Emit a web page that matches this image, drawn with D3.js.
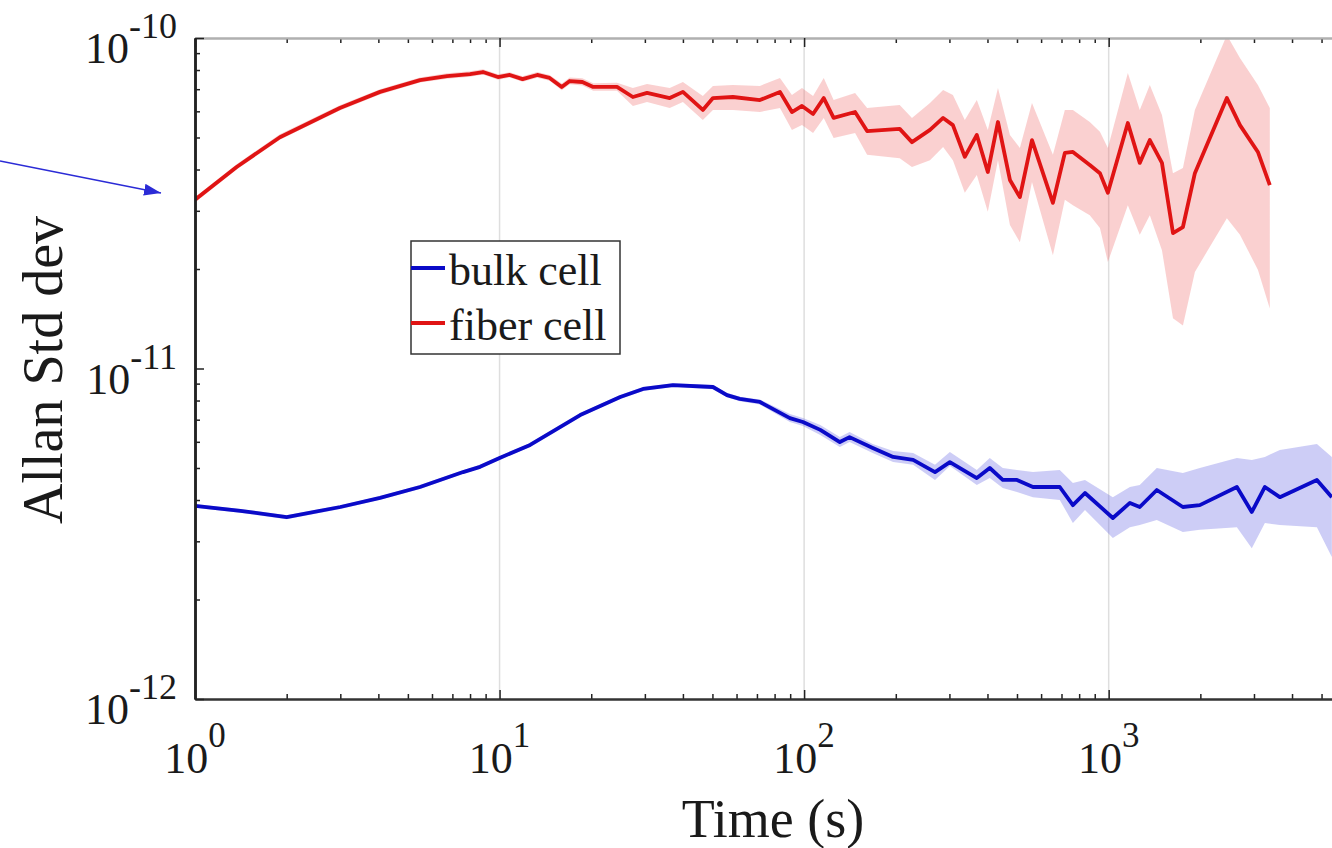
<!DOCTYPE html>
<html>
<head>
<meta charset="utf-8">
<script src="https://cdn.jsdelivr.net/npm/d3@7"></script>
<style>
  body { margin: 0; background: #fff; }
  text { font-family: "Liberation Serif", "Times New Roman", serif; fill: #1a1a1a; }
</style>
</head>
<body>
<div id="chart"></div>
<script>
// averaging time (s) and Allan deviation, sigma in units of 1e-11
var unit = 1e-11;

var fiberTau = [1, 1.37, 1.90, 2.99, 4.05, 5.48, 6.72, 8.0, 8.82, 9.88, 10.8, 11.9, 13.3, 14.6, 16.0, 17.0, 18.7, 20.3, 24.3,
  27.4, 30.5, 36.2, 40.0, 46.5, 50.2, 58.4, 71.6, 83.3, 91.2, 98.4, 107, 116, 125, 147, 161, 206, 226, 259, 286, 308,
  337, 369, 401, 433, 474, 511, 560, 656, 718, 763, 867, 936, 994, 1156, 1265, 1365, 1496, 1626, 1753, 1919, 2444,
  2698, 3090, 3381];
var fiberMean = [3.24, 4.07, 5.01, 6.14, 6.87, 7.46, 7.67, 7.78, 7.89, 7.62, 7.73, 7.51, 7.73, 7.57, 7.11, 7.41, 7.36, 7.11, 7.11,
  6.63, 6.82, 6.58, 6.87, 6.06, 6.58, 6.63, 6.49, 6.87, 5.97, 6.23, 5.89, 6.58, 5.73, 5.97, 5.23, 5.31, 4.84, 5.27, 5.73, 5.45,
  4.37, 5.09, 3.93, 5.57, 3.72, 3.30, 4.91, 3.17, 4.49, 4.52, 4.13, 3.90, 3.40, 5.53, 4.19, 4.91, 4.19, 2.57, 2.68, 3.90, 6.58,
  5.45, 4.52, 3.59];
var fiberLow = [3.18, 4.0, 4.92, 6.03, 6.75, 7.33, 7.53, 7.64, 7.75, 7.48, 7.59, 7.37, 7.58, 7.42, 6.95, 7.24, 7.18, 6.93, 6.92,
  6.23, 6.40, 6.14, 6.40, 5.65, 6.06, 6.06, 5.97, 6.14, 5.27, 5.45, 5.16, 5.73, 4.98, 5.16, 4.43, 4.33, 4.07, 4.27, 4.68, 4.27,
  3.40, 3.85, 2.98, 4.27, 2.72, 2.41, 3.67, 2.20, 3.24, 3.12, 2.91, 2.66, 2.10, 3.12, 2.54, 2.91, 2.28, 1.42, 1.35, 1.96, 2.85,
  2.54, 1.99, 1.52];
var fiberHigh = [3.30, 4.15, 5.11, 6.26, 7.0, 7.6, 7.82, 7.93, 8.04, 7.77, 7.88, 7.66, 7.89, 7.73, 7.28, 7.59, 7.55, 7.30, 7.32,
  7.06, 7.26, 7.06, 7.36, 6.68, 7.16, 7.21, 7.16, 7.57, 6.72, 7.06, 6.68, 7.57, 6.49, 6.82, 6.14, 6.27, 5.73, 6.36, 6.96, 6.72,
  5.65, 6.49, 5.27, 7.06, 5.09, 4.65, 6.36, 4.43, 6.06, 6.06, 5.57, 5.20, 4.65, 7.84, 6.06, 7.21, 5.85, 3.90, 4.04, 6.06, 10.2,
  8.70, 7.21, 6.14];

var bulkTau = [1, 1.41, 2.0, 3.0, 4.05, 5.48, 7.59, 8.63, 10.0, 12.6, 18.4, 24.9, 29.6, 37.1, 50.2, 55.8, 61.5, 71.6, 89.8, 99.1,
  113, 131, 141, 168, 196, 228, 269, 301, 369, 407, 449, 500, 564, 691, 763, 836, 1032, 1174, 1265, 1439, 1752, 1992, 2636,
  2951, 3258, 3648, 4827, 5405];
var bulkMean = [0.384, 0.371, 0.355, 0.381, 0.406, 0.438, 0.486, 0.504, 0.536, 0.587, 0.723, 0.820, 0.867, 0.891, 0.879, 0.831,
  0.809, 0.792, 0.708, 0.689, 0.652, 0.599, 0.620, 0.575, 0.540, 0.529, 0.486, 0.521, 0.466, 0.500, 0.460, 0.460, 0.438, 0.438,
  0.386, 0.420, 0.353, 0.392, 0.381, 0.429, 0.381, 0.386, 0.438, 0.368, 0.438, 0.408, 0.460, 0.408];
var bulkLow = [0.379, 0.366, 0.350, 0.376, 0.401, 0.432, 0.480, 0.497, 0.529, 0.579, 0.713, 0.809, 0.855, 0.879, 0.866, 0.818,
  0.796, 0.778, 0.689, 0.670, 0.629, 0.579, 0.599, 0.555, 0.521, 0.511, 0.460, 0.507, 0.444, 0.466, 0.435, 0.423, 0.408, 0.400,
  0.341, 0.373, 0.307, 0.331, 0.336, 0.348, 0.320, 0.325, 0.331, 0.286, 0.341, 0.336, 0.331, 0.269];
var bulkHigh = [0.389, 0.376, 0.360, 0.386, 0.411, 0.444, 0.492, 0.511, 0.543, 0.595, 0.733, 0.831, 0.879, 0.903, 0.892, 0.844,
  0.822, 0.806, 0.728, 0.708, 0.675, 0.620, 0.642, 0.591, 0.563, 0.555, 0.511, 0.559, 0.493, 0.536, 0.500, 0.493, 0.486, 0.493,
  0.450, 0.460, 0.408, 0.438, 0.444, 0.500, 0.483, 0.500, 0.536, 0.529, 0.540, 0.567, 0.591, 0.540];

var xTicks = [1, 10, 100, 1000];
var xTickExp = ["0", "1", "2", "3"];
var yTicks = [1e-12, 1e-11, 1e-10];
var yTickExp = ["-12", "-11", "-10"];
var seriesNames = ["bulk cell", "fiber cell"];

// layout (plot box edges in px)
var W = 1332, H = 848;
var pL = 195, pT = 38, pR = 1350, pB = 699;

var svg = d3.select("#chart").append("svg")
  .attr("width", W)
  .attr("height", H);

var x = d3.scaleLog().domain([1, 6200]).range([pL, pR]);
var y = d3.scaleLog().domain([1e-12, 1e-10]).range([pB, pT]);

// minor tick values
var xMinor = [];
[1, 10, 100, 1000].forEach(function(d) {
  for (var k = 2; k <= 9; k++) if (k * d <= 6200) xMinor.push(k * d);
});
var yMinor = [];
[1e-12, 1e-11].forEach(function(d) {
  for (var k = 2; k <= 9; k++) yMinor.push(k * d);
});

var defs = svg.append("defs");
defs.append("clipPath").attr("id", "plot")
  .append("rect").attr("x", pL).attr("y", pT).attr("width", pR - pL).attr("height", pB - pT);

// grid
svg.append("g").selectAll("line").data(xTicks.slice(1)).enter().append("line")
  .attr("x1", function(d) { return x(d); })
  .attr("x2", function(d) { return x(d); })
  .attr("y1", pT).attr("y2", pB)
  .style("stroke", "#dedede").style("stroke-width", 1.5);

function rows(tau, mean, lo, hi) {
  return tau.map(function(t, i) { return {t: t, m: mean[i] * unit, lo: lo[i] * unit, hi: hi[i] * unit}; });
}
var series = [
  {name: seriesNames[0], data: rows(bulkTau, bulkMean, bulkLow, bulkHigh), line: "#0a0ac8", band: "rgba(90,90,225,0.3)"},
  {name: seriesNames[1], data: rows(fiberTau, fiberMean, fiberLow, fiberHigh), line: "#e01414", band: "rgba(240,110,110,0.32)"}
];

var area = d3.area()
  .x(function(d) { return x(d.t); })
  .y0(function(d) { return y(d.lo); })
  .y1(function(d) { return y(d.hi); });
var line = d3.line()
  .x(function(d) { return x(d.t); })
  .y(function(d) { return y(d.m); });

var plot = svg.append("g").attr("clip-path", "url(#plot)");
series.forEach(function(s) {
  plot.append("path").attr("d", area(s.data))
    .style("fill", s.band).style("stroke", "none");
});
series.forEach(function(s) {
  plot.append("path").attr("d", line(s.data))
    .style("fill", "none").style("stroke", s.line)
    .style("stroke-width", 3.8).style("stroke-linejoin", "round");
});

// axes, ticks pointing inward
function styleAxis(g, color, width) {
  g.select(".domain").style("stroke", color).style("stroke-width", width);
  g.selectAll(".tick line").style("stroke", "#222").style("stroke-width", 1.5);
}
svg.append("g").attr("transform", "translate(0," + pT + ")")
  .call(d3.axisTop(x).tickValues(xMinor).tickSize(-5).tickSizeOuter(0).tickFormat(""))
  .call(styleAxis, "#b0b0b0", 2);
svg.append("g").attr("transform", "translate(0," + pT + ")")
  .call(d3.axisTop(x).tickValues(xTicks).tickSize(-9).tickSizeOuter(0).tickFormat(""))
  .call(styleAxis, "#b0b0b0", 2);
svg.append("g").attr("transform", "translate(0," + pB + ")")
  .call(d3.axisBottom(x).tickValues(xMinor).tickSize(-5).tickSizeOuter(0).tickFormat(""))
  .call(styleAxis, "#333", 2);
svg.append("g").attr("transform", "translate(0," + pB + ")")
  .call(d3.axisBottom(x).tickValues(xTicks).tickSize(-9).tickSizeOuter(0).tickFormat(""))
  .call(styleAxis, "#333", 2);
svg.append("g").attr("transform", "translate(" + pL + ",0)")
  .call(d3.axisLeft(y).tickValues(yMinor).tickSize(-5).tickSizeOuter(0).tickFormat(""))
  .call(styleAxis, "#222", 2.5);
svg.append("g").attr("transform", "translate(" + pL + ",0)")
  .call(d3.axisLeft(y).tickValues(yTicks).tickSize(-9).tickSizeOuter(0).tickFormat(""))
  .call(styleAxis, "#222", 2.5);

// tick labels with superscript exponents
var xl = svg.append("g").selectAll("text").data(xTicks).enter().append("text")
  .attr("x", function(d) { return x(d); })
  .attr("y", pB + 74)
  .attr("text-anchor", "middle")
  .style("font-size", "44px");
xl.append("tspan").text("10");
xl.append("tspan").attr("dy", -26).style("font-size", "35px").text(function(d, i) { return xTickExp[i]; });

var yl = svg.append("g").selectAll("text").data(yTicks).enter().append("text")
  .attr("x", pL - 18)
  .attr("y", function(d) { return y(d) + 25; })
  .attr("text-anchor", "end")
  .style("font-size", "44px");
yl.append("tspan").text("10");
yl.append("tspan").attr("dy", -25).style("font-size", "36px").text(function(d, i) { return yTickExp[i]; });

// axis titles
svg.append("text")
  .attr("x", 773).attr("y", 837)
  .attr("text-anchor", "middle")
  .style("font-size", "54px")
  .text("Time (s)");
svg.append("text")
  .attr("transform", "translate(62,370) rotate(-90)")
  .attr("text-anchor", "middle")
  .style("font-size", "56px")
  .text("Allan Std dev");

// legend
var legend = svg.append("g").attr("transform", "translate(411,241)");
legend.append("rect")
  .attr("width", 209).attr("height", 113)
  .style("fill", "#fff").style("stroke", "#333").style("stroke-width", 1.5);
var item = legend.selectAll(".item").data(series).enter().append("g")
  .attr("transform", function(d, i) { return "translate(0," + (27 + i * 55) + ")"; });
item.append("line")
  .attr("x1", 0).attr("x2", 34)
  .style("stroke", function(d) { return d.line; })
  .style("stroke-width", 4);
item.append("text")
  .attr("x", 38).attr("y", 17)
  .style("font-size", "44px")
  .text(function(d) { return d.name; });

// annotation arrow on the left
defs.append("marker")
  .attr("id", "head")
  .attr("markerUnits", "userSpaceOnUse")
  .attr("markerWidth", 18).attr("markerHeight", 12)
  .attr("refX", 17).attr("refY", 6)
  .attr("orient", "auto")
  .append("path").attr("d", "M0,0 L17,6 L0,12 Z").style("fill", "#2b2bd6");
svg.append("line")
  .attr("x1", 0).attr("y1", 161)
  .attr("x2", 161).attr("y2", 193)
  .style("stroke", "#2b2bd6").style("stroke-width", 1.6)
  .attr("marker-end", "url(#head)");
</script>
</body>
</html>
